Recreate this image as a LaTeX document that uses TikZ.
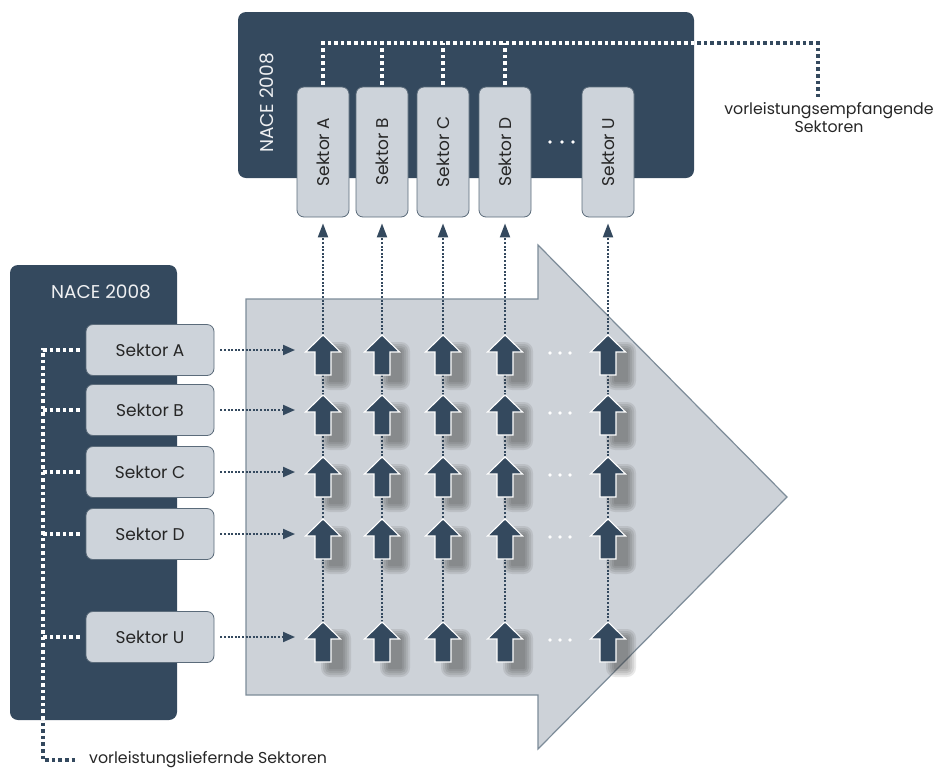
\documentclass[tikz,border=0pt]{standalone}
\usepackage{fontspec}
\setmainfont{Poppins}
\usetikzlibrary{arrows.meta,calc,backgrounds}

\definecolor{nacenavy}{HTML}{34495E}
\definecolor{boxfill}{HTML}{CDD3DA}
\definecolor{boxline}{HTML}{5B6B7A}
\definecolor{flowfill}{HTML}{CDD2D8}
\definecolor{flowline}{HTML}{7D8C99}

% dotted brackets of both panels, drawn in the colour #1
\newcommand{\bracketlines}[1]{%
  \draw[feed, #1] ([yshift=2pt]empA.east) |- (bend) -- (empftip);
  \foreach \name in {B,C,D}
    \draw[feed, #1] ([yshift=2pt]emp\name.east) -- (emp\name.east |- bend);
  \draw[feed, #1] ([xshift=-6pt]liefA.west) -- (spine) |- (liefend);
  \foreach \name in {B,C,D,U}
    \draw[feed, #1] ([xshift=-6pt]lief\name.west) -- (lief\name.west -| spine);
}

\begin{document}
\begin{tikzpicture}[x=1pt, y=-1pt,
  panel/.style={fill=nacenavy, rounded corners=8pt},
  nace/.style={text=white!92!nacenavy, font=\fontsize{18.5}{21}\selectfont},
  sektor/.style={draw=boxline, fill=boxfill, line width=0.8pt, rounded corners=7pt,
    text=black!85, font=\fontsize{17}{20}\selectfont, inner sep=0pt},
  tag/.style={text=black!85, font=\fontsize{15.8}{18}\selectfont, inner sep=0pt},
  feed/.style={line width=3.4pt, dash pattern=on 3.6pt off 3pt},
  thinfeed/.style={nacenavy, line width=2pt, dash pattern=on 2pt off 1.6pt},
  blockup/.pic={
    \coordinate (-tip) at (0,-20);
    % soft shadow, stacked
    \foreach \r in {9,7,5,3,1}
      \fill[black!80, opacity=0.11, rounded corners=\r pt]
        (7-\r,-4-\r) rectangle (19+\r,26+\r);
    \filldraw[fill=nacenavy, draw=white, line width=1.1pt]
      (0,-20) -- (17.5,-3) -- (8,-3) -- (8,20) -- (-8,20) -- (-8,-3) -- (-17.5,-3) -- cycle;
  }]
\useasboundingbox (0,0) rectangle (934,769);

% panels
\fill[panel] (238,12) rectangle (694,178);
\fill[panel] (10,265) rectangle (177,720);
\node[nace, rotate=90] (topnace) at (267,103) {NACE 2008};
\node[nace] (leftnace) at (101,292) {NACE 2008};

\foreach \name/\x in {A/323,B/382,C/443,D/505,U/608}
  \node[sektor, rotate=90, minimum width=130pt, minimum height=52pt] (emp\name) at (\x,152) {Sektor \name};
\foreach \name/\y in {A/350,B/410,C/472,D/534,U/637}
  \node[sektor, minimum width=128pt, minimum height=51pt] (lief\name) at (150,\y) {Sektor \name};

\foreach \dx in {-12,0,11}
  \fill[white] (562+\dx,142) circle (1.9pt);

% brackets and their labels
\coordinate (bend) at (818,43);
\coordinate (empftip) at (818,97);
\coordinate (spine) at (43,350);
\coordinate (liefend) at (78,760);
\node[tag, align=center, anchor=north] (empftext) at (829,102) {vorleistungsempfangende\\Sektoren};
\node[tag, anchor=west] (lieftext) at (89,760) {vorleistungsliefernde Sektoren};
\bracketlines{nacenavy}
\begin{scope}
  \clip (238,12) rectangle (694,178) (10,265) rectangle (177,720);
  \bracketlines{white}
\end{scope}

% grid of block arrows
\foreach \row/\y in {A/350,B/410,C/472,D/534,U/637}
  \foreach \col/\x in {A/323,B/382,C/443,D/505,U/608}
    \pic (cell-\row-\col) at (\x,\y+5) {blockup};

\begin{scope}[on background layer]
  \fill[flowfill, draw=flowline, line width=1.2pt]
    (246,299) -- (538,299) -- (538,245) -- (787,497) -- (538,749) -- (538,695) -- (246,695) -- cycle;
  \foreach \col in {A,B,C,D,U}
    \draw[thinfeed, -{Triangle[length=14pt, width=10pt]}] (cell-U-\col-tip) -- ([yshift=-6pt]emp\col.west);
\end{scope}

\foreach \row/\y in {A/350,B/410,C/472,D/534,U/637} {
  \draw[thinfeed, -{Triangle[length=12pt, width=10pt]}]
    ([xshift=6pt]lief\row.east) -- ($(lief\row.east -| cell-\row-A-tip)+(-28,0)$);
  \foreach \dx in {-10,0,10}
    \fill[white] (560+\dx,\y+3) circle (1.8pt);
}
\end{tikzpicture}
\end{document}
